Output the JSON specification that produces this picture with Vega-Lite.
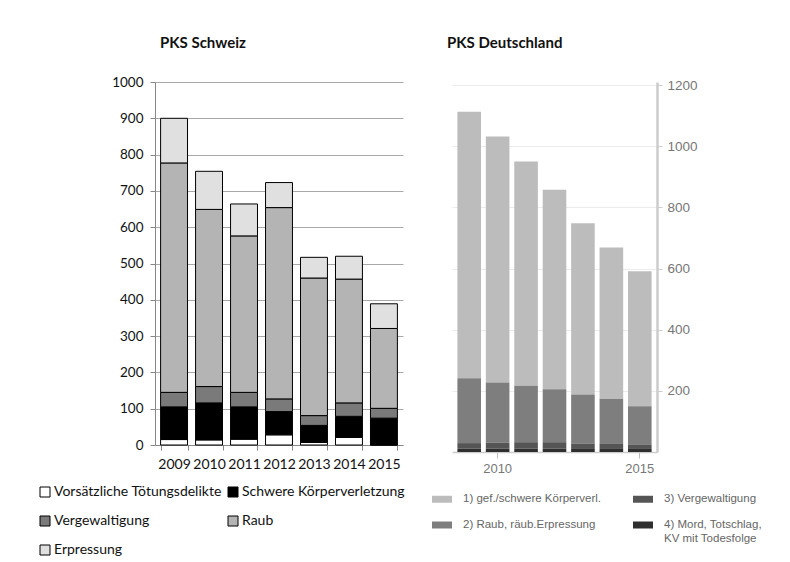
{
  "$schema": "https://vega.github.io/schema/vega-lite/v6.json",
  "background": "white",
  "padding": {"left": 38, "top": 36, "right": 0, "bottom": 0},
  "spacing": 27,
  "config": {"view": {"stroke": null}, "font": "Lato"},
  "resolve": {
    "scale": {"color": "independent", "x": "independent", "y": "independent"},
    "legend": {"color": "independent"}
  },
  "datasets": {
    "schweiz": [
      {"Jahr": 2009, "Delikt": "Vorsätzliche Tötungsdelikte", "Anzahl": 15},
      {"Jahr": 2009, "Delikt": "Schwere Körperverletzung", "Anzahl": 90},
      {"Jahr": 2009, "Delikt": "Vergewaltigung", "Anzahl": 40},
      {"Jahr": 2009, "Delikt": "Raub", "Anzahl": 632},
      {"Jahr": 2009, "Delikt": "Erpressung", "Anzahl": 123},
      {"Jahr": 2010, "Delikt": "Vorsätzliche Tötungsdelikte", "Anzahl": 14},
      {"Jahr": 2010, "Delikt": "Schwere Körperverletzung", "Anzahl": 102},
      {"Jahr": 2010, "Delikt": "Vergewaltigung", "Anzahl": 45},
      {"Jahr": 2010, "Delikt": "Raub", "Anzahl": 488},
      {"Jahr": 2010, "Delikt": "Erpressung", "Anzahl": 105},
      {"Jahr": 2011, "Delikt": "Vorsätzliche Tötungsdelikte", "Anzahl": 16},
      {"Jahr": 2011, "Delikt": "Schwere Körperverletzung", "Anzahl": 89},
      {"Jahr": 2011, "Delikt": "Vergewaltigung", "Anzahl": 40},
      {"Jahr": 2011, "Delikt": "Raub", "Anzahl": 431},
      {"Jahr": 2011, "Delikt": "Erpressung", "Anzahl": 88},
      {"Jahr": 2012, "Delikt": "Vorsätzliche Tötungsdelikte", "Anzahl": 28},
      {"Jahr": 2012, "Delikt": "Schwere Körperverletzung", "Anzahl": 64},
      {"Jahr": 2012, "Delikt": "Vergewaltigung", "Anzahl": 35},
      {"Jahr": 2012, "Delikt": "Raub", "Anzahl": 527},
      {"Jahr": 2012, "Delikt": "Erpressung", "Anzahl": 69},
      {"Jahr": 2013, "Delikt": "Vorsätzliche Tötungsdelikte", "Anzahl": 7},
      {"Jahr": 2013, "Delikt": "Schwere Körperverletzung", "Anzahl": 47},
      {"Jahr": 2013, "Delikt": "Vergewaltigung", "Anzahl": 27},
      {"Jahr": 2013, "Delikt": "Raub", "Anzahl": 379},
      {"Jahr": 2013, "Delikt": "Erpressung", "Anzahl": 57},
      {"Jahr": 2014, "Delikt": "Vorsätzliche Tötungsdelikte", "Anzahl": 21},
      {"Jahr": 2014, "Delikt": "Schwere Körperverletzung", "Anzahl": 58},
      {"Jahr": 2014, "Delikt": "Vergewaltigung", "Anzahl": 37},
      {"Jahr": 2014, "Delikt": "Raub", "Anzahl": 341},
      {"Jahr": 2014, "Delikt": "Erpressung", "Anzahl": 63},
      {"Jahr": 2015, "Delikt": "Vorsätzliche Tötungsdelikte", "Anzahl": 0},
      {"Jahr": 2015, "Delikt": "Schwere Körperverletzung", "Anzahl": 74},
      {"Jahr": 2015, "Delikt": "Vergewaltigung", "Anzahl": 27},
      {"Jahr": 2015, "Delikt": "Raub", "Anzahl": 220},
      {"Jahr": 2015, "Delikt": "Erpressung", "Anzahl": 68}
    ],
    "deutschland": [
      {"Jahr": 2009, "Delikt": "1) gef./schwere Körperverl.", "Anzahl": 872},
      {"Jahr": 2009, "Delikt": "2) Raub, räub.Erpressung", "Anzahl": 212},
      {"Jahr": 2009, "Delikt": "3) Vergewaltigung", "Anzahl": 18},
      {"Jahr": 2009, "Delikt": "4) Mord, Totschlag, KV mit Todesfolge", "Anzahl": 11},
      {"Jahr": 2010, "Delikt": "1) gef./schwere Körperverl.", "Anzahl": 805},
      {"Jahr": 2010, "Delikt": "2) Raub, räub.Erpressung", "Anzahl": 196},
      {"Jahr": 2010, "Delikt": "3) Vergewaltigung", "Anzahl": 20},
      {"Jahr": 2010, "Delikt": "4) Mord, Totschlag, KV mit Todesfolge", "Anzahl": 11},
      {"Jahr": 2011, "Delikt": "1) gef./schwere Körperverl.", "Anzahl": 733},
      {"Jahr": 2011, "Delikt": "2) Raub, räub.Erpressung", "Anzahl": 185},
      {"Jahr": 2011, "Delikt": "3) Vergewaltigung", "Anzahl": 21},
      {"Jahr": 2011, "Delikt": "4) Mord, Totschlag, KV mit Todesfolge", "Anzahl": 11},
      {"Jahr": 2012, "Delikt": "1) gef./schwere Körperverl.", "Anzahl": 653},
      {"Jahr": 2012, "Delikt": "2) Raub, räub.Erpressung", "Anzahl": 173},
      {"Jahr": 2012, "Delikt": "3) Vergewaltigung", "Anzahl": 21},
      {"Jahr": 2012, "Delikt": "4) Mord, Totschlag, KV mit Todesfolge", "Anzahl": 11},
      {"Jahr": 2013, "Delikt": "1) gef./schwere Körperverl.", "Anzahl": 560},
      {"Jahr": 2013, "Delikt": "2) Raub, räub.Erpressung", "Anzahl": 161},
      {"Jahr": 2013, "Delikt": "3) Vergewaltigung", "Anzahl": 17},
      {"Jahr": 2013, "Delikt": "4) Mord, Totschlag, KV mit Todesfolge", "Anzahl": 10},
      {"Jahr": 2014, "Delikt": "1) gef./schwere Körperverl.", "Anzahl": 496},
      {"Jahr": 2014, "Delikt": "2) Raub, räub.Erpressung", "Anzahl": 145},
      {"Jahr": 2014, "Delikt": "3) Vergewaltigung", "Anzahl": 18},
      {"Jahr": 2014, "Delikt": "4) Mord, Totschlag, KV mit Todesfolge", "Anzahl": 10},
      {"Jahr": 2015, "Delikt": "1) gef./schwere Körperverl.", "Anzahl": 441},
      {"Jahr": 2015, "Delikt": "2) Raub, räub.Erpressung", "Anzahl": 125},
      {"Jahr": 2015, "Delikt": "3) Vergewaltigung", "Anzahl": 15},
      {"Jahr": 2015, "Delikt": "4) Mord, Totschlag, KV mit Todesfolge", "Anzahl": 10}
    ]
  },
  "hconcat": [
    {
      "title": {"text": "PKS Schweiz", "anchor": "start", "frame": "group", "dx": 5, "font": "Lato", "fontSize": 15, "fontWeight": "bold", "color": "#111", "offset": 24},
      "width": 248,
      "height": 363,
      "data": {"name": "schweiz"},
      "transform": [
        {"calculate": "indexof(['Vorsätzliche Tötungsdelikte', 'Schwere Körperverletzung', 'Vergewaltigung', 'Raub', 'Erpressung'], datum.Delikt)", "as": "Ebene"}
      ],
      "mark": {"type": "bar", "stroke": "#000", "strokeWidth": 1},
      "encoding": {
        "x": {
          "field": "Jahr", "type": "ordinal",
          "scale": {"paddingInner": 0.23, "paddingOuter": 0.16},
          "axis": {"title": null, "labelAngle": 0, "tickBand": "extent", "domainColor": "#888", "tickColor": "#888", "tickSize": 5, "labelFont": "Lato", "labelFontSize": 14, "labelColor": "#111", "labelPadding": 7}
        },
        "y": {
          "field": "Anzahl", "type": "quantitative", "stack": "zero",
          "scale": {"domain": [0, 1000]},
          "axis": {"title": null, "format": "d", "values": [0, 100, 200, 300, 400, 500, 600, 700, 800, 900, 1000], "grid": true, "gridColor": "#a8a8a8", "domainColor": "#888", "tickColor": "#888", "tickSize": 5, "labelFont": "Lato", "labelFontSize": 13.5, "labelColor": "#111", "labelPadding": 7}
        },
        "color": {
          "field": "Delikt", "type": "nominal",
          "scale": {
            "domain": ["Vorsätzliche Tötungsdelikte", "Vergewaltigung", "Erpressung", "Schwere Körperverletzung", "Raub"],
            "range": ["#ffffff", "#7a7a7a", "#e0e0e0", "#000000", "#b4b4b4"]
          },
          "legend": {"title": null, "orient": "none", "legendX": -117, "legendY": 403, "columns": 2, "columnPadding": 4, "rowPadding": 15, "symbolType": "square", "symbolSize": 100, "symbolStrokeColor": "#000", "symbolStrokeWidth": 1, "symbolOpacity": 1, "labelFont": "Lato", "labelFontSize": 14, "labelColor": "#111", "labelOffset": 2, "labelLimit": 300}
        },
        "order": {"field": "Ebene", "type": "quantitative", "sort": "ascending"}
      }
    },
    {
      "title": {"text": "PKS Deutschland", "anchor": "start", "frame": "group", "dx": -5, "font": "Lato", "fontSize": 15, "fontWeight": "bold", "color": "#111", "offset": 27},
      "width": 205,
      "height": 370,
      "data": {"name": "deutschland"},
      "mark": {"type": "bar"},
      "encoding": {
        "x": {
          "field": "Jahr", "type": "ordinal",
          "scale": {"paddingInner": 0.17, "paddingOuter": 0.19},
          "axis": {"title": null, "values": [2010, 2015], "labelAngle": 0, "domainColor": "#cccccc", "domainWidth": 1.5, "tickColor": "#bbbbbb", "tickSize": 6, "labelFont": "Liberation Sans", "labelFontSize": 13, "labelColor": "#777", "labelPadding": 4}
        },
        "y": {
          "field": "Anzahl", "type": "quantitative", "stack": "zero",
          "scale": {"domain": [0, 1210], "nice": false},
          "axis": {"orient": "right", "title": null, "format": "d", "values": [200, 400, 600, 800, 1000, 1200], "grid": true, "gridColor": "#ececec", "domainColor": "#cccccc", "domainWidth": 2.5, "tickColor": "#cccccc", "tickSize": 5, "labelFont": "Liberation Sans", "labelFontSize": 13.5, "labelColor": "#777", "labelPadding": 5}
        },
        "color": {
          "field": "Delikt", "type": "nominal",
          "scale": {
            "domain": ["1) gef./schwere Körperverl.", "2) Raub, räub.Erpressung", "3) Vergewaltigung", "4) Mord, Totschlag, KV mit Todesfolge"],
            "range": ["#bcbcbc", "#7e7e7e", "#555555", "#2f2f2f"]
          },
          "legend": {"title": null, "orient": "none", "legendX": -20, "legendY": 407, "columns": 2, "columnPadding": 31, "rowPadding": 10, "symbolType": "M-1,-0.35L1,-0.35L1,0.35L-1,0.35Z", "symbolSize": 400, "symbolStrokeWidth": 0, "symbolOpacity": 1, "labelFont": "Liberation Sans", "labelFontSize": 11.5, "labelColor": "#666", "labelOffset": 11, "labelLimit": 300, "labelBaseline": "top",
            "labelExpr": "datum.label == '4) Mord, Totschlag, KV mit Todesfolge' ? ['4) Mord, Totschlag,', 'KV mit Todesfolge'] : datum.label",
            "encode": {"labels": {"update": {"dy": {"value": -6}}}}}
        }
      }
    }
  ]
}
